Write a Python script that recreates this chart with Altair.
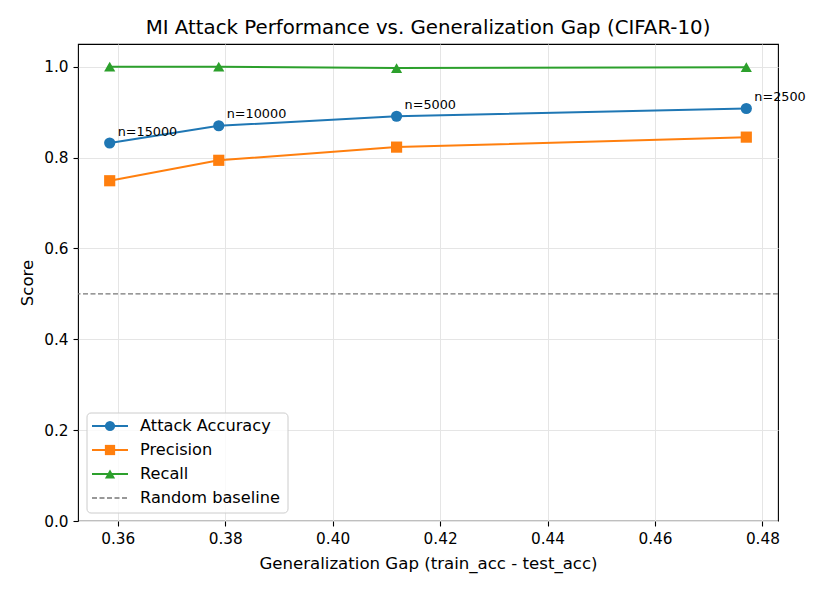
import altair as alt
import pandas as pd

# ---------------- data ----------------
gap = [0.3585, 0.3788, 0.4119, 0.4770]
n_labels = ["n=15000", "n=10000", "n=5000", "n=2500"]
attack_acc = [0.832, 0.870, 0.891, 0.908]
precision = [0.749, 0.794, 0.823, 0.845]
recall = [1.000, 1.000, 0.997, 0.999]
series_names = ["Attack Accuracy", "Precision", "Recall"]
baseline_label = "Random baseline"
baseline_value = [0.5]
x_ticks = [0.36, 0.38, 0.40, 0.42, 0.44, 0.46, 0.48]
y_ticks = [0.0, 0.2, 0.4, 0.6, 0.8, 1.0]

rows = []
for name, vals in zip(series_names, [attack_acc, precision, recall]):
    for g, v, n in zip(gap, vals, n_labels):
        rows.append({"gap": g, "score": v, "series": name, "n": n})
df = pd.DataFrame(rows)

# ---------------- styling ----------------
FONT = "DejaVu Sans"
colors = ["#1f77b4", "#ff7f0e", "#2ca02c"]
shapes = ["circle", "square", "triangle-up"]
W, H = 700, 477

x_scale = alt.Scale(domain=[0.3526, 0.4829], nice=False, zero=False)
y_scale = alt.Scale(domain=[0, 1.05], nice=False, zero=False)
color_scale = alt.Scale(domain=series_names, range=colors)
shape_scale = alt.Scale(domain=series_names, range=shapes)

x_enc = alt.X(
    "gap:Q", scale=x_scale,
    axis=alt.Axis(values=x_ticks, format=".2f",
                  title="Generalization Gap (train_acc - test_acc)",
                  titleY=42, titleBaseline="middle"),
)
y_enc = alt.Y(
    "score:Q", scale=y_scale,
    axis=alt.Axis(values=y_ticks, format=".1f", title="Score",
                  titleX=-51, titleY=H / 2, titleAngle=270,
                  titleAlign="center", titleBaseline="middle"),
)

base = alt.Chart(df)

lines = base.mark_line(strokeWidth=2).encode(
    x=x_enc, y=y_enc,
    color=alt.Color("series:N", scale=color_scale, legend=None),
    detail="series:N",
)
points = base.mark_point(filled=True, size=125, opacity=1).encode(
    x=x_enc, y=y_enc,
    color=alt.Color("series:N", scale=color_scale, legend=None),
    shape=alt.Shape("series:N", scale=shape_scale, legend=None),
)
annot = base.transform_filter(
    alt.datum.series == series_names[0]
).mark_text(align="left", baseline="alphabetic", dx=8, dy=-7.5,
            fontSize=12.8, font=FONT, color="#000").encode(
    x=x_enc, y=y_enc, text="n:N",
)
baseline = alt.Chart(pd.DataFrame({"y": baseline_value})).mark_rule(
    strokeDash=[5, 2.5], color="#777777", strokeWidth=1.3
).encode(y=alt.Y("y:Q", scale=y_scale))

# ---------------- legend (drawn manually) ----------------
dummy = pd.DataFrame({"a": [0]})
legend_layers = [
    alt.Chart(dummy).mark_rect(
        fill="white", fillOpacity=0.8, stroke="#cccccc", strokeWidth=1,
        cornerRadius=4,
    ).encode(x=alt.value(9), x2=alt.value(210), y=alt.value(369), y2=alt.value(469))
]
for i, name in enumerate(series_names):
    ly = 382 + 24 * i
    legend_layers.append(
        alt.Chart(dummy).mark_rule(strokeWidth=2, color=colors[i]).encode(
            x=alt.value(14), x2=alt.value(50), y=alt.value(ly))
    )
    legend_layers.append(
        alt.Chart(dummy).mark_point(filled=True, size=105, opacity=1,
                                    color=colors[i], shape=shapes[i]).encode(
            x=alt.value(32), y=alt.value(ly))
    )
    legend_layers.append(
        alt.Chart(dummy).mark_text(align="left", baseline="middle",
                                   fontSize=16.2, font=FONT, color="#000").encode(
            x=alt.value(62), y=alt.value(ly), text=alt.value(name))
    )
ly = 382 + 24 * 3
legend_layers.append(
    alt.Chart(dummy).mark_rule(strokeDash=[5, 2.5], color="#777777", strokeWidth=1.3).encode(
        x=alt.value(14), x2=alt.value(50), y=alt.value(ly))
)
legend_layers.append(
    alt.Chart(dummy).mark_text(align="left", baseline="middle",
                               fontSize=16.2, font=FONT, color="#000").encode(
        x=alt.value(62), y=alt.value(ly), text=alt.value(baseline_label))
)

chart = alt.layer(baseline, lines, points, annot, *legend_layers).properties(
    width=W, height=H,
    background="white",
    title=alt.TitleParams(
        "MI Attack Performance vs. Generalization Gap (CIFAR-10)",
        fontSize=19.8, fontWeight="normal", font=FONT, color="#000",
        anchor="middle", offset=6,
    ),
    autosize=alt.AutoSizeParams(type="none"),
    padding={"left": 78, "top": 44, "right": 50, "bottom": 70},
).configure_view(
    stroke="#000000", strokeWidth=1.1,
).configure_axis(
    domain=False, grid=True, gridColor="#e5e5e5", gridWidth=1,
    tickColor="#000", tickSize=5, tickWidth=1.1,
    labelFont=FONT, labelFontSize=15.3, labelColor="#000", labelPadding=5,
    titleFont=FONT, titleFontSize=16.6, titleFontWeight="normal", titleColor="#000",
)

chart.save("out.html", embed_options={"renderer": "svg", "actions": False})
